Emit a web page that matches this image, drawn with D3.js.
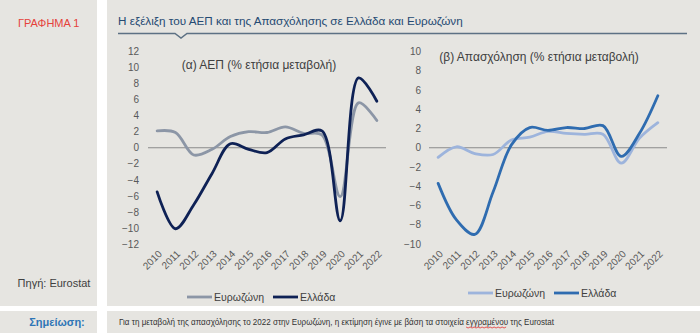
<!DOCTYPE html>
<html><head><meta charset="utf-8">
<script src="https://cdn.jsdelivr.net/npm/d3@7"></script>
<style>
html,body{margin:0;padding:0;background:#fff;}
svg{display:block;font-family:"Liberation Sans",Arial,sans-serif;}
</style></head>
<body>
<svg id="c" width="700" height="333"></svg>
<script>
const years = ["2010","2011","2012","2013","2014","2015","2016","2017","2018","2019","2020","2021","2022"];
const gdpEurozone = [2.1, 1.9, -0.9, -0.2, 1.4, 2.0, 1.9, 2.6, 1.8, 1.6, -6.1, 5.6, 3.4];
const gdpGreece   = [-5.5, -10.1, -7.1, -3.2, 0.5, -0.2, -0.6, 1.1, 1.6, 2.1, -9.1, 8.7, 5.8];
const empEurozone = [-1.0, 0.1, -0.6, -0.7, 0.8, 1.1, 1.7, 1.5, 1.4, 1.4, -1.6, 1.0, 2.6];
const empGreece   = [-3.7, -7.5, -9.0, -4.6, 0.3, 2.1, 1.8, 2.1, 2.0, 2.3, -0.9, 1.5, 5.4];
const gdpTicks = [-12,-10,-8,-6,-4,-2,0,2,4,6,8,10,12];
const empTicks = [-10,-8,-6,-4,-2,0,2,4,6,8,10];
const seriesNames = ["Ευρωζώνη","Ελλάδα"];

const BG = "#e6e5e1";
const svg = d3.select("#c");

// panels
svg.append("rect").attr("x",0).attr("y",0).attr("width",97).attr("height",306).attr("fill",BG);
svg.append("rect").attr("x",107).attr("y",0).attr("width",593).attr("height",306).attr("fill",BG);
svg.append("rect").attr("x",0).attr("y",311).attr("width",97).attr("height",22).attr("fill",BG);
svg.append("rect").attr("x",107).attr("y",311).attr("width",593).attr("height",22).attr("fill",BG);

svg.append("text").attr("x",18).attr("y",27).attr("font-size",11).attr("fill","#e5413a").text("ΓΡΑΦΗΜΑ 1");
svg.append("text").attr("x",118).attr("y",25).attr("font-size",11.7).attr("fill","#254a72")
  .text("Η εξέλιξη του ΑΕΠ και της Απασχόλησης σε Ελλάδα και Ευρωζώνη");
svg.append("path").attr("d","M118,33.5 H175 L181,38 L187,33.5 H687")
  .attr("fill","none").attr("stroke","#5d7184").attr("stroke-width",1.5);

svg.append("text").attr("x",54).attr("y",287).attr("font-size",11).attr("fill","#404040")
  .attr("text-anchor","middle").text("Πηγή: Eurostat");
svg.append("text").attr("x",57).attr("y",326).attr("font-size",11).attr("font-weight","bold")
  .attr("fill","#2e75b6").attr("text-anchor","middle").text("Σημείωση:");

const noteText = "Για τη μεταβολή της απασχόλησης το 2022 στην Ευρωζώνη, η εκτίμηση έγινε με βάση τα στοιχεία εγγραμένου της Eurostat";
const word = "εγγραμένου";
const noteLen = 435;
const note = svg.append("text").attr("x",119).attr("y",324.5).attr("font-size",9).attr("fill","#333")
  .attr("font-family","'Liberation Sans Narrow','Liberation Sans',Arial,sans-serif").text(noteText);
const nodeText = note.node();
const idx = noteText.indexOf(word);
const natural = nodeText.getComputedTextLength();
const ratio = noteLen / natural;
const sPos = nodeText.getSubStringLength(0, idx) * ratio;
const wLen = nodeText.getSubStringLength(idx, word.length) * ratio;
note.attr("textLength", noteLen).attr("lengthAdjust","spacingAndGlyphs");
{
  const x0 = 119 + sPos;
  const pts = [];
  for (let xx = 0; xx <= wLen; xx += 2) pts.push([x0+xx, 327 + ((xx/2)%2 ? 1 : 0)]);
  svg.append("path").attr("d", d3.line()(pts)).attr("fill","none").attr("stroke","#e03030").attr("stroke-width",0.8);
}

function drawChart(opt){
  const x = d3.scaleBand().domain(years).range([opt.x0, opt.x1]);
  const y = d3.scaleLinear().domain([opt.ticks[0], opt.ticks[opt.ticks.length-1]]).range([opt.yBottom, opt.yTop]);
  const g = svg.append("g");
  const ya = d3.axisLeft(y).tickValues(opt.ticks).tickSize(0).tickPadding(opt.pad).tickFormat(d3.format("d"));
  const yg = g.append("g").attr("transform",`translate(${opt.x0},0)`).call(ya);
  yg.select(".domain").remove();
  yg.selectAll("text").attr("font-size",10).attr("fill","#595959").attr("font-family","'Liberation Sans',Arial,sans-serif");
  g.append("line").attr("x1",opt.x0).attr("x2",opt.x1).attr("y1",y(0)).attr("y2",y(0))
    .attr("stroke","#8a8a8a").attr("stroke-width",1);
  g.selectAll(".xl").data(years).enter().append("text")
    .attr("transform",d=>`translate(${x(d)+x.bandwidth()/2+3},${opt.yBottom+8}) rotate(-45)`)
    .attr("text-anchor","end").attr("dy","0.35em").attr("font-size",10).attr("fill","#595959").text(d=>d);
  g.append("text").attr("x",opt.titleX).attr("y",opt.titleY).attr("text-anchor","middle")
    .attr("font-size",12).attr("fill","#404040").text(opt.title);
  const line = d3.line().x((d,i)=>x(years[i])+x.bandwidth()/2).y(d=>y(d)).curve(d3.curveCatmullRom.alpha(0.5));
  opt.series.forEach(s=>{
    g.append("path").attr("d",line(s.values)).attr("fill","none").attr("stroke",s.color)
      .attr("stroke-width",2.8).attr("stroke-linejoin","round").attr("stroke-linecap","round");
  });
  opt.series.forEach((s,i)=>{
    const lx = opt.legend[i];
    g.append("line").attr("x1",lx).attr("x2",lx+25).attr("y1",opt.legendY).attr("y2",opt.legendY)
      .attr("stroke",s.color).attr("stroke-width",2.8);
    g.append("text").attr("x",lx+27).attr("y",opt.legendY+4).attr("font-size",10.5).attr("fill","#404040").text(seriesNames[i]);
  });
}

drawChart({x0:148, x1:386, yTop:51.5, yBottom:244, ticks:gdpTicks, pad:9,
  title:"(α) ΑΕΠ (% ετήσια μεταβολή)", titleX:259, titleY:69,
  series:[{values:gdpEurozone,color:"#8c96a6"},{values:gdpGreece,color:"#0e2155"}],
  legend:[187,273], legendY:297});
drawChart({x0:429, x1:667, yTop:51.5, yBottom:244, ticks:empTicks, pad:8,
  title:"(β) Απασχόληση (% ετήσια μεταβολή)", titleX:539, titleY:61,
  series:[{values:empEurozone,color:"#9db4dc"},{values:empGreece,color:"#2f6cb0"}],
  legend:[468,554], legendY:293});
</script>
</body></html>
